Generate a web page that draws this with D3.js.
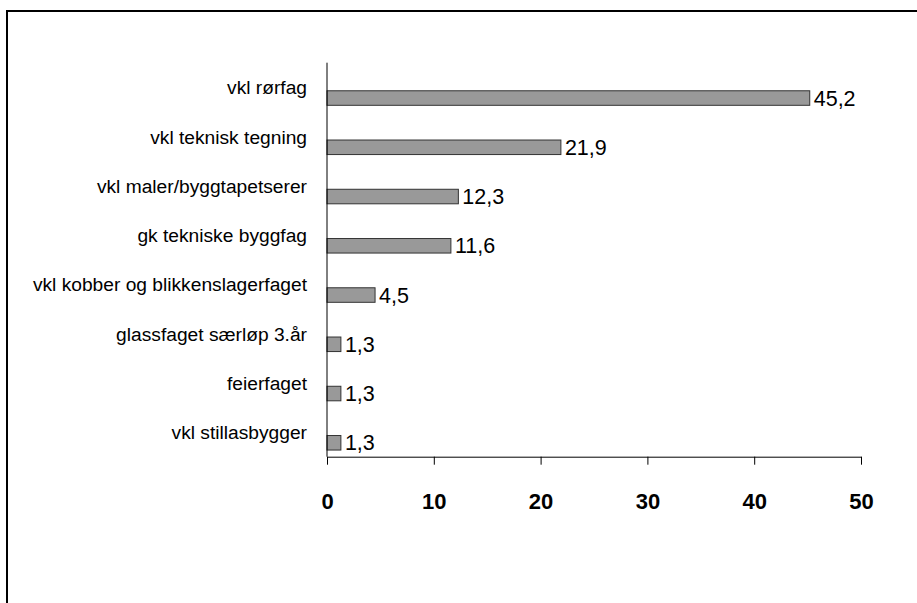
<!DOCTYPE html>
<html>
<head>
<meta charset="utf-8">
<script src="https://cdn.jsdelivr.net/npm/d3@7/dist/d3.min.js"></script>
<style>
  html, body { margin: 0; padding: 0; background: #fff; }
  svg { display: block; }
</style>
</head>
<body>
<script>
const categories = ["vkl rørfag", "vkl teknisk tegning", "vkl maler/byggtapetserer", "gk tekniske byggfag",
  "vkl kobber og blikkenslagerfaget", "glassfaget særløp 3.år", "feierfaget", "vkl stillasbygger"];
const values = [45.2, 21.9, 12.3, 11.6, 4.5, 1.3, 1.3, 1.3];
const valueLabels = ["45,2", "21,9", "12,3", "11,6", "4,5", "1,3", "1,3", "1,3"];
const xTicks = [0, 10, 20, 30, 40, 50];

(function () {
const W = 917, H = 603;
const svg = d3.select("body").append("svg").attr("width", W).attr("height", H);

// outer frame (only top and left edges are inside the picture)
svg.append("line").attr("x1", 6).attr("x2", W).attr("y1", 11).attr("y2", 11)
  .attr("stroke", "#000").attr("stroke-width", 2);
svg.append("line").attr("x1", 7).attr("x2", 7).attr("y1", 10).attr("y2", H)
  .attr("stroke", "#000").attr("stroke-width", 2);

const pLeft = 327, pRight = 861, pTop = 62.7, pBottom = 456.7;
const x = d3.scaleLinear().domain([0, 50]).range([pLeft, pRight]);
const y = d3.scaleBand().domain(categories).range([pTop, pBottom]).padding(0);
const bw = y.bandwidth();

// bars
svg.append("g").selectAll("rect").data(values).join("rect")
  .attr("x", x(0))
  .attr("y", (d, i) => y(categories[i]) + bw * 0.57)
  .attr("width", d => x(d) - x(0))
  .attr("height", bw * 0.295)
  .attr("fill", "#999999")
  .attr("stroke", "#333333")
  .attr("stroke-width", 1);

// value labels
svg.append("g").selectAll("text").data(values).join("text")
  .attr("x", d => x(d) + 4)
  .attr("y", (d, i) => y(categories[i]) + bw * 0.57 + bw * 0.295 / 2 + 7.6)
  .attr("font-family", "Liberation Sans, Arial, sans-serif")
  .attr("font-size", 21.5)
  .attr("fill", "#000")
  .text((d, i) => valueLabels[i]);

// category labels
svg.append("g").selectAll("text").data(categories).join("text")
  .attr("x", 307)
  .attr("y", d => y(d) + bw / 2 + 7)
  .attr("text-anchor", "end")
  .attr("font-family", "Liberation Sans, Arial, sans-serif")
  .attr("font-size", 19.2)
  .attr("fill", "#000")
  .text(d => d);

// y axis line
svg.append("line").attr("x1", pLeft).attr("x2", pLeft).attr("y1", pTop).attr("y2", pBottom)
  .attr("stroke", "#000").attr("stroke-width", 1);

// x axis
const xAxis = d3.axisBottom(x).tickValues(xTicks).tickSize(8).tickPadding(29).tickSizeOuter(0)
  .tickFormat(d3.format("d"));
const gx = svg.append("g").attr("transform", `translate(0,${pBottom})`).call(xAxis);
gx.select(".domain").attr("stroke", "#000");
gx.selectAll(".tick line").attr("stroke", "#000");
gx.selectAll(".tick text")
  .attr("font-family", "Liberation Sans, Arial, sans-serif")
  .attr("font-size", 22)
  .attr("font-weight", "bold")
  .attr("fill", "#000");
})();
</script>
</body>
</html>
